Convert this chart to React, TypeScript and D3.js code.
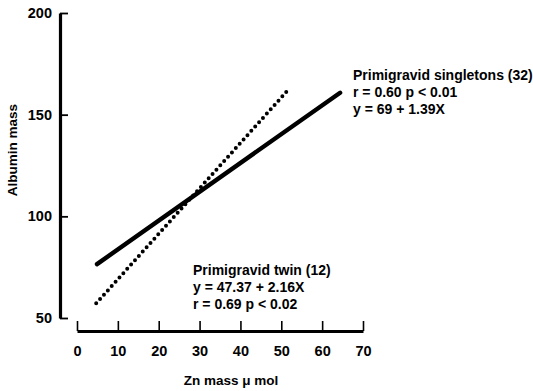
import React, { useEffect, useRef } from 'react';
import * as d3 from 'd3';

// values (Zn mass vs albumin mass)
const singletonLine = [
  { x: 4.9, y: 76.5 },
  { x: 64.4, y: 160.8 },
];
const twinLine = [
  { x: 4.7, y: 57.2 },
  { x: 51.6, y: 162 },
];
const xTicks = [0, 10, 20, 30, 40, 50, 60, 70];
const yTicks = [50, 100, 150, 200];
const singletonNote = ['Primigravid singletons (32)', 'r = 0.60 p < 0.01', 'y = 69 + 1.39X'];
const twinNote = ['Primigravid twin (12)', 'y = 47.37 + 2.16X', 'r = 0.69 p < 0.02'];

const W = 533;
const H = 391;
const FONT = '"Liberation Sans", Arial, sans-serif';

export default function App() {
  const ref = useRef<SVGSVGElement>(null);

  useEffect(() => {
    const svg = d3.select(ref.current);
    svg.selectAll('*').remove();

    const x = d3.scaleLinear().domain([0, 70]).range([77, 363]);
    const y = d3.scaleLinear().domain([50, 200]).range([318, 13]);

    // y axis sits left of x = 0, ticks point inward
    const yAxis = svg.append('g')
      .attr('transform', 'translate(60,0)')
      .call(d3.axisLeft(y).tickValues(yTicks).tickSizeInner(-8).tickSizeOuter(0).tickPadding(8));
    yAxis.select('.domain').attr('stroke', '#000').attr('stroke-width', 3.2);
    yAxis.selectAll('.tick line').attr('stroke', '#000').attr('stroke-width', 1.8);
    yAxis.selectAll('.tick text')
      .attr('font-family', FONT).attr('font-size', 14.5).attr('font-weight', 'bold').attr('fill', '#000');

    // x axis detached below, ticks pointing up
    const xAxis = svg.append('g')
      .attr('transform', 'translate(0,331)')
      .call(d3.axisBottom(x).tickValues(xTicks).tickSizeInner(-10).tickSizeOuter(0).tickPadding(15));
    xAxis.select('.domain').attr('stroke', '#000').attr('stroke-width', 3);
    xAxis.selectAll('.tick line').attr('stroke', '#000').attr('stroke-width', 1.6);
    xAxis.selectAll('.tick text')
      .attr('font-family', FONT).attr('font-size', 14.5).attr('font-weight', 'bold').attr('fill', '#000');

    svg.append('text')
      .attr('transform', 'translate(17,150) rotate(-90)')
      .attr('text-anchor', 'middle')
      .attr('font-family', FONT).attr('font-size', 13.5).attr('font-weight', 'bold')
      .text('Albumin mass');

    svg.append('text')
      .attr('x', 231).attr('y', 385)
      .attr('text-anchor', 'middle')
      .attr('font-family', FONT).attr('font-size', 13.5).attr('font-weight', 'bold')
      .text('Zn mass \u03bc  mol');

    const line = d3.line<{ x: number; y: number }>().x(d => x(d.x)).y(d => y(d.y));

    svg.append('path')
      .datum(singletonLine)
      .attr('d', line)
      .attr('fill', 'none').attr('stroke', '#000').attr('stroke-width', 4.4)
      .attr('stroke-linecap', 'round');

    svg.append('path')
      .datum(twinLine)
      .attr('d', line)
      .attr('fill', 'none').attr('stroke', '#000').attr('stroke-width', 4)
      .attr('stroke-linecap', 'round').attr('stroke-dasharray', '0 5.8');

    const note = (lines: string[], x0: number, y0: number) => {
      svg.append('g').selectAll('text')
        .data(lines)
        .enter()
        .append('text')
        .attr('x', x0)
        .attr('y', (_, i) => y0 + i * 17)
        .attr('font-family', FONT).attr('font-size', 14).attr('font-weight', 'bold')
        .text(d => d);
    };
    note(singletonNote, 353, 80);
    note(twinNote, 193, 275);
  }, []);

  return (
    <svg ref={ref} width={W} height={H}
      style={{ position: 'absolute', left: 0, top: 0, background: '#fff' }} />
  );
}
